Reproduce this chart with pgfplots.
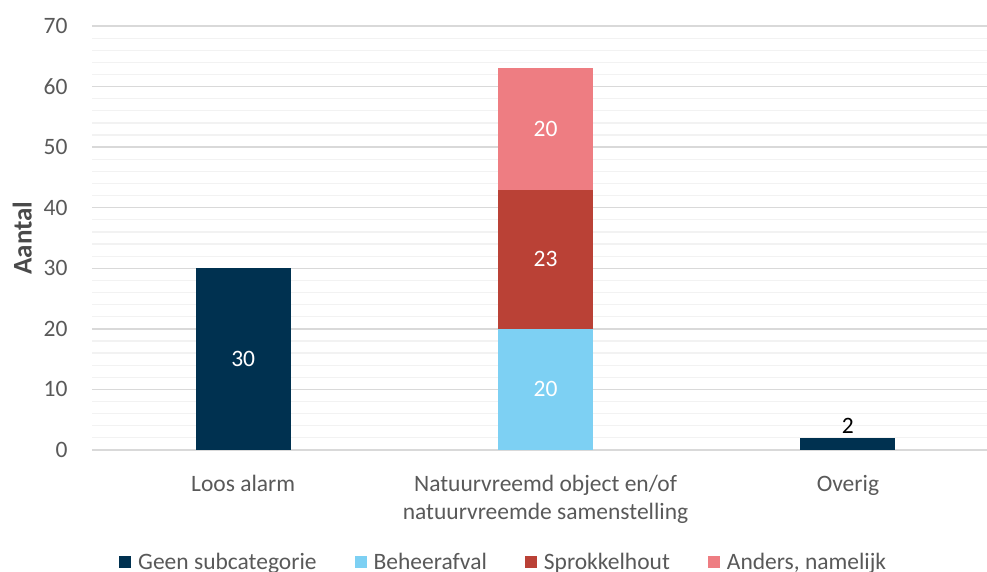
\documentclass[border=0pt]{standalone}
\usepackage{pgfplots}
\pgfplotsset{compat=1.18}
\usepackage{pgfplotstable}
\usepackage{fontspec}
\setmainfont{Carlito}

\definecolor{navy}{HTML}{003150}
\definecolor{lightblue}{HTML}{7DD0F3}
\definecolor{brickred}{HTML}{BA4136}
\definecolor{rosepink}{HTML}{EE7D82}
\definecolor{txtgray}{HTML}{595959}
\definecolor{labelgray}{HTML}{4A4A4A}
\definecolor{majgrid}{HTML}{D9D9D9}
\definecolor{mingrid}{HTML}{F2F2F2}

% one table per series; categories at x = 0, 1, 2
\pgfplotstableread{
x y
0 30
1 0
2 0
}\geen
\pgfplotstableread{
x y
0 0
1 20
2 0
}\beheer
\pgfplotstableread{
x y
0 0
1 23
2 0
}\sprokkel
\pgfplotstableread{
x y
0 0
1 20
2 0
}\anders
\pgfplotstableread{
x y
0 0
1 0
2 2
}\overig

\newcommand{\chartfont}{\fontsize{23.5}{27.5}\selectfont}

\pgfplotsset{
  inside labels/.style={
    point meta=explicit symbolic,
    nodes near coords={\ifnum\pgfplotspointmeta>0 \pgfplotspointmeta\fi},
    every node near coord/.append style={anchor=center, text=white, font=\chartfont},
  },
  outside labels/.style={
    point meta=explicit symbolic,
    nodes near coords={\ifnum\pgfplotspointmeta>0 \pgfplotspointmeta\fi},
    every node near coord/.append style={anchor=south, text=black, font=\chartfont,
      inner sep=2pt, yshift=8pt},
  },
}

\begin{document}
\begin{tikzpicture}
\useasboundingbox (0,0) rectangle (987pt,572pt);
\begin{axis}[
  at={(92pt,122pt)}, anchor=south west,
  scale only axis, width=895pt, height=424pt,
  ybar stacked, bar width=95pt,
  xmin=-0.5, xmax=2.46, ymin=0, ymax=70,
  xtick={0,1,2},
  xticklabels={Loos alarm, {Natuurvreemd object en/of\\natuurvreemde samenstelling}, Overig},
  ytick={0,10,...,70},
  minor ytick={2,4,...,68},
  ymajorgrids, yminorgrids,
  major grid style={majgrid, line width=1.4pt},
  minor grid style={mingrid, line width=1.2pt},
  axis line style={draw=none},
  major tick length=0pt, minor tick length=0pt,
  tick label style={font=\chartfont, text=txtgray},
  xticklabel style={align=center, yshift=-22pt},
  yticklabel style={xshift=-21pt},
  /pgf/number format/assume math mode=true,
  ylabel={\textbf{Aantal}},
  every axis y label/.style={at={(axis description cs:-0.078,0.5)}, rotate=90, anchor=center,
    font=\fontsize{27}{32}\selectfont, text=labelgray},
  legend columns=4,
  legend style={at={(axis description cs:0.46,-0.264)}, anchor=center, draw=none, fill=none,
    font=\chartfont, text=txtgray,
    /tikz/every odd column/.append style={column sep=5pt},
    /tikz/every even column/.append style={column sep=36pt}},
  legend image code/.code={\fill[#1] (0pt,-6pt) rectangle (12pt,6pt);},
]
\addplot[fill=navy, draw=none, inside labels] table[x=x, y=y, meta=y] {\geen};
\addlegendentry{Geen subcategorie}
\addplot[fill=lightblue, draw=none, inside labels] table[x=x, y=y, meta=y] {\beheer};
\addlegendentry{Beheerafval}
\addplot[fill=brickred, draw=none, inside labels] table[x=x, y=y, meta=y] {\sprokkel};
\addlegendentry{Sprokkelhout}
\addplot[fill=rosepink, draw=none, inside labels] table[x=x, y=y, meta=y] {\anders};
\addlegendentry{Anders, namelijk}
\addplot[fill=navy, draw=none, outside labels, forget plot] table[x=x, y=y, meta=y] {\overig};
\end{axis}
\end{tikzpicture}
\end{document}
